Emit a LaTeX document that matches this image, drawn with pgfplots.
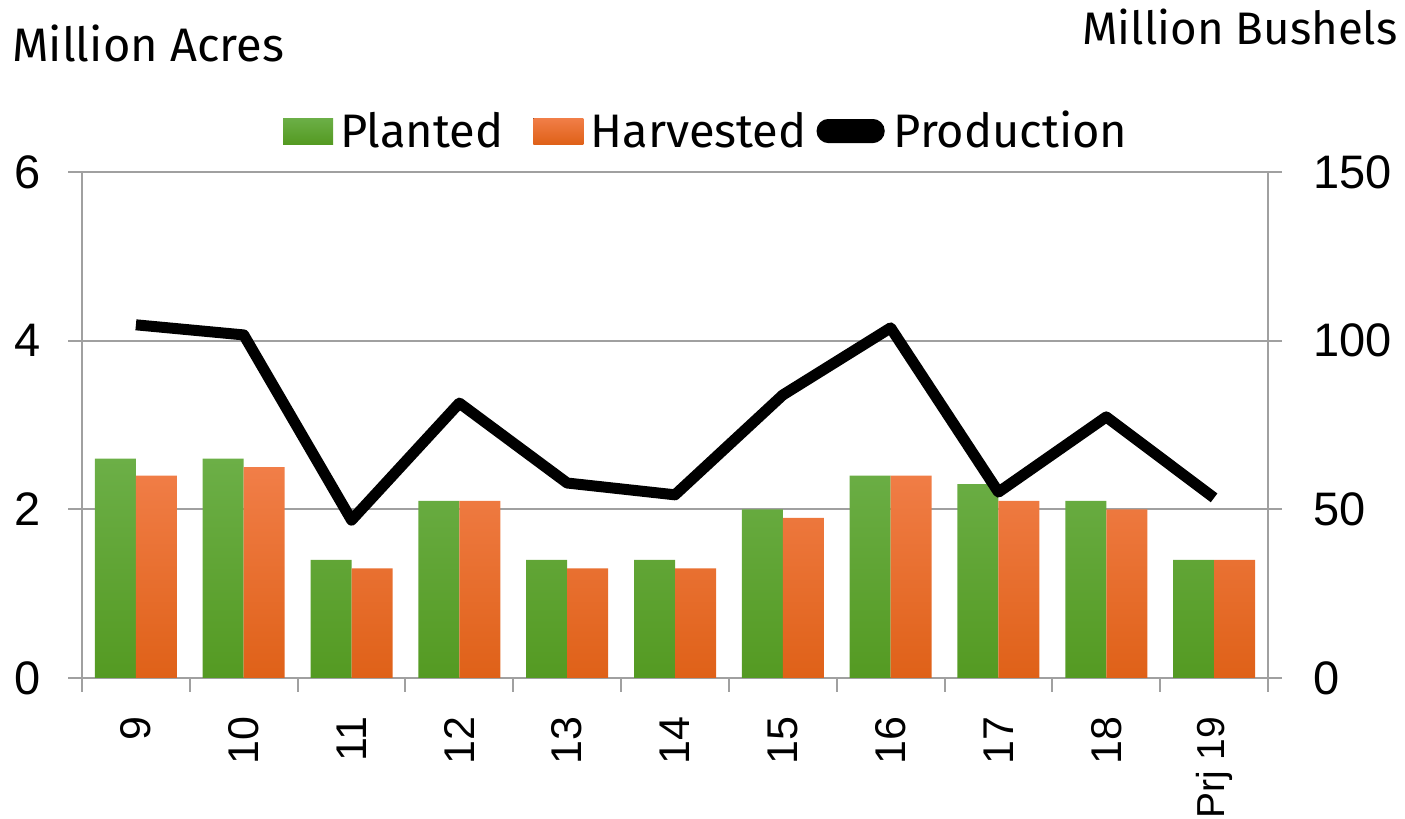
\documentclass[border=0pt]{standalone}
\usepackage{fontspec}
\setmainfont{Fira Sans}
\newfontfamily\arialfont{Liberation Sans}
\usepackage{pgfplots}
\pgfplotsset{compat=1.18}
\definecolor{gtop}{HTML}{6CAF47}
\definecolor{gbot}{HTML}{549A22}
\definecolor{otop}{HTML}{F17E48}
\definecolor{obot}{HTML}{DF6118}
\definecolor{axgray}{HTML}{A0A0A0}
\begin{document}
\begin{tikzpicture}
\useasboundingbox (-41pt,-70.5pt) rectangle (661.5pt,339pt);
\begin{axis}[
  at={(0pt,0pt)}, anchor=south west,
  scale only axis, width=593pt, height=253pt,
  xmin=-0.5, xmax=10.5, ymin=0, ymax=6,
  ytick={0,2,4,6},
  xtick={0,...,10},
  xticklabels={9,10,11,12,13,14,15,16,17,18,{\fontsize{19.5}{22}\selectfont Prj 19\hspace{-6pt}}},
  minor xtick={-0.5,0.5,...,10.5},
  axis x line*=bottom, axis y line*=left,
  axis line style={axgray, line width=1pt, -},
  ymajorgrids, grid style={axgray, line width=1pt},
  tick align=outside,
  major tick length=7pt, minor tick length=7pt,
  tick style={axgray, line width=1pt},
  every major x tick/.append style={draw=none},
  /pgf/number format/assume math mode=true,
  yticklabel style={font=\arialfont\fontsize{23.5}{28}\selectfont, xshift=-10pt},
  xticklabel style={font=\arialfont\fontsize{21.5}{24}\selectfont, rotate=90, anchor=east, xshift=-9pt},
  ybar=0pt, bar width=20.5pt,
  legend columns=3,
  legend style={draw=none, fill=none, at={(0.1695,1.081)}, anchor=west,
    inner sep=0pt, outer sep=0pt,
    nodes={inner xsep=0pt},
    font=\fontsize{23.5}{28}\selectfont,
    /tikz/every odd column/.append style={column sep=3.5pt},
    /tikz/every even column/.append style={column sep=5pt}},
]
\addplot[draw=none, top color=gtop, bottom color=gbot,
  legend image code/.code={\fill[top color=gtop, bottom color=gbot] (0pt,-6.5pt) rectangle (25pt,6.5pt);}]
  coordinates {(0,2.6) (1,2.6) (2,1.4) (3,2.1) (4,1.4) (5,1.4) (6,2.0) (7,2.4) (8,2.3) (9,2.1) (10,1.4)};
\addlegendentry{Planted}
\addplot[draw=none, top color=otop, bottom color=obot,
  legend image code/.code={\path (-10pt,0pt); \fill[top color=otop, bottom color=obot] (0pt,-6.5pt) rectangle (25pt,6.5pt);}]
  coordinates {(0,2.4) (1,2.5) (2,1.3) (3,2.1) (4,1.3) (5,1.3) (6,1.9) (7,2.4) (8,2.1) (9,2.0) (10,1.4)};
\addlegendentry{Harvested}
\addlegendimage{black, line width=6pt,
  legend image code/.code={\fill[black, rounded corners=3pt] (0pt,-3pt) rectangle (28pt,3pt); \path (29pt,0pt);}}
\addlegendentry{Production}
\end{axis}
\begin{axis}[
  at={(0pt,0pt)}, anchor=south west,
  scale only axis, width=593pt, height=253pt,
  xmin=-0.5, xmax=10.5, ymin=0, ymax=150,
  ytick={0,50,100,150},
  axis x line=none, axis y line*=right,
  axis line style={axgray, line width=1pt, -},
  tick align=outside, major tick length=7pt,
  tick style={axgray, line width=1pt},
  /pgf/number format/assume math mode=true,
  yticklabel style={font=\arialfont\fontsize{23.5}{28}\selectfont, xshift=12pt},
]
\addplot[black, line width=5.5pt, line join=round, mark=none]
  coordinates {(0,104.7) (1,101.7) (2,46.8) (3,81.5) (4,57.8) (5,54.3) (6,83.9) (7,103.8) (8,55.1) (9,77.4) (10,53.4)};
\end{axis}
\node[anchor=base west, inner sep=0pt, font=\fontsize{23.5}{28}\selectfont] at (-35pt,308pt) {Million Acres};
\node[anchor=base east, inner sep=0pt, font=\fontsize{22.8}{28}\selectfont] at (658pt,316.5pt) {Million Bushels};
\end{tikzpicture}
\end{document}
